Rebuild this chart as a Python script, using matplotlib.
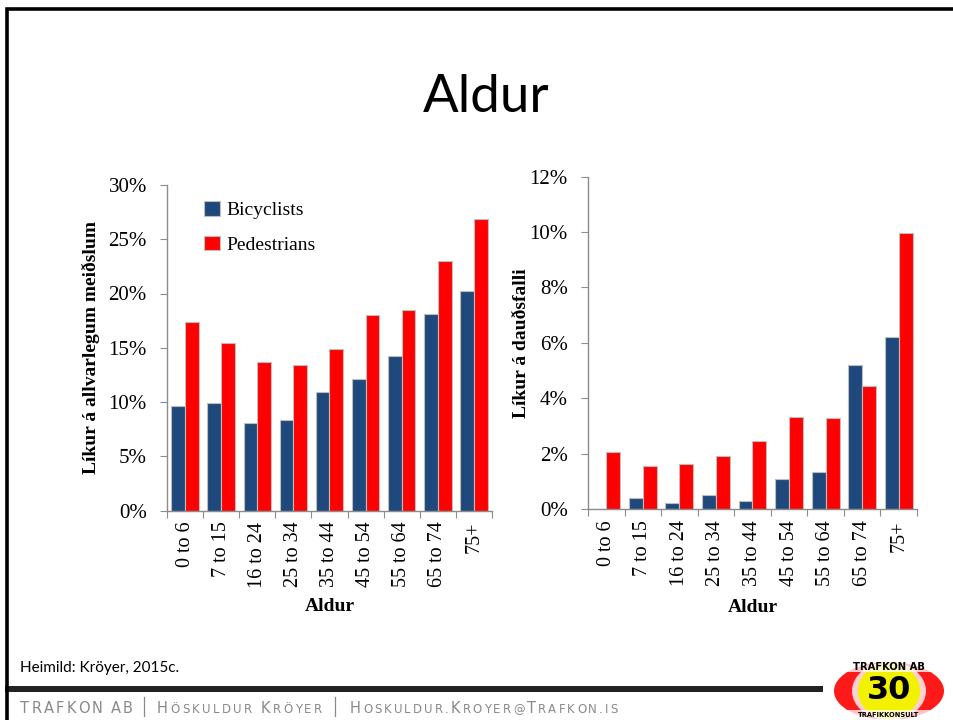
import matplotlib
matplotlib.use("Agg")
import matplotlib.pyplot as plt
import matplotlib.patches as mpatches
import numpy as np

categories = ["0 to 6", "7 to 15", "16 to 24", "25 to 34", "35 to 44",
              "45 to 54", "55 to 64", "65 to 74", "75+"]
serious_bicyclists = [9.6, 9.9, 8.1, 8.3, 10.9, 12.1, 14.2, 18.1, 20.2]
serious_pedestrians = [17.4, 15.4, 13.7, 13.4, 14.9, 18.0, 18.5, 23.0, 26.9]
fatal_bicyclists = [0.0, 0.4, 0.2, 0.5, 0.3, 1.1, 1.35, 5.2, 6.2]
fatal_pedestrians = [2.07, 1.55, 1.63, 1.92, 2.45, 3.32, 3.27, 4.44, 9.96]
left_yticks = [0, 5, 10, 15, 20, 25, 30]
right_yticks = [0, 2, 4, 6, 8, 10, 12]
series_names = ["Bicyclists", "Pedestrians"]
title_text = "Aldur"
xlabel_text = "Aldur"
left_ylabel = "Líkur á allvarlegum meiðslum"
right_ylabel = "Líkur á dauðsfalli"
source_text = "Heimild: Kröyer, 2015c."
footer_texts = ["TRAFKON AB", "Höskuldur Kröyer", "Hoskuldur.Kroyer@Trafkon.is"]

BLUE = "#1F497D"
RED = "#FF0000"
EDGE = "#BDBDBD"
SPINE = "#8C8C8C"
SERIF = ["Liberation Serif", "DejaVu Serif"]
SANS = ["Lato", "DejaVu Sans"]

W, H = 954, 720
fig = plt.figure(figsize=(W / 100, H / 100), dpi=100)
fig.patch.set_facecolor("white")


def px_axes(x0, y0, x1, y1, z=0):
    return fig.add_axes([x0 / W, 1 - y1 / H, (x1 - x0) / W, (y1 - y0) / H],
                        zorder=z)


def style_axes(ax, yticks, ymax, ylabel):
    x = np.arange(len(categories))
    ax.set_xlim(-0.5, len(categories) - 0.5)
    ax.set_ylim(0, ymax)
    for s in ["top", "right"]:
        ax.spines[s].set_visible(False)
    for s in ["left", "bottom"]:
        ax.spines[s].set_color(SPINE)
        ax.spines[s].set_linewidth(1.0)
    ax.set_yticks(yticks)
    ax.set_yticklabels([f"{v}%" for v in yticks], fontfamily=SERIF, fontsize=15)
    ax.tick_params(axis="y", direction="out", length=5, color=SPINE, pad=9.5)
    ax.set_xticks(np.arange(-0.5, len(categories), 1.0))
    ax.set_xticklabels([])
    ax.tick_params(axis="x", which="major", direction="out", length=5, color=SPINE)
    ax.set_xticks(x, minor=True)
    ax.set_xticklabels(categories, minor=True, rotation=90, fontfamily=SERIF,
                       fontsize=14.5, va="top", ha="center")
    ax.tick_params(axis="x", which="minor", length=0, pad=8)
    ax.set_xlabel(xlabel_text, fontfamily=SERIF, fontsize=14, fontweight="bold",
                  labelpad=0)
    ax.set_ylabel(ylabel, fontfamily=SERIF, fontsize=14, fontweight="bold",
                  labelpad=6)


def draw_bars(ax, b, p):
    x = np.arange(len(categories))
    w = 0.38
    ax.bar(x - w / 2, b, w, color=BLUE, edgecolor=EDGE, linewidth=0.8,
           label=series_names[0])
    ax.bar(x + w / 2, p, w, color=RED, edgecolor=EDGE, linewidth=0.8,
           label=series_names[1])


ax1 = px_axes(167, 185, 492, 510.5, z=2)
draw_bars(ax1, serious_bicyclists, serious_pedestrians)
style_axes(ax1, left_yticks, 30, left_ylabel)
ax1.xaxis.set_label_coords(0.5, -0.27)
ax1.yaxis.set_label_coords(-0.205, 0.5)
leg = ax1.legend(loc="upper left", bbox_to_anchor=(0.06, 1.005), frameon=False,
                 prop={"family": SERIF, "size": 14}, handlelength=0.8,
                 handleheight=0.8, handletextpad=0.35, labelspacing=0.85)

ax2 = px_axes(588, 176.7, 917, 509, z=2)
draw_bars(ax2, fatal_bicyclists, fatal_pedestrians)
style_axes(ax2, right_yticks, 12, right_ylabel)
ax2.xaxis.set_label_coords(0.5, -0.27)
ax2.yaxis.set_label_coords(-0.175, 0.5)

# overlay for slide decorations
ov = fig.add_axes([0, 0, 1, 1], zorder=-1)
ov.set_xlim(0, W)
ov.set_ylim(H, 0)
ov.axis("off")

ov.plot([7.5, 7.5, W], [H, 9, 9], color="black", lw=2.6, solid_capstyle="butt",
        solid_joinstyle="miter")
ov.text(486, 98, title_text, fontsize=38, fontfamily=SANS, ha="center",
        va="center", color="black")
ov.text(20, 668, source_text, fontsize=11, fontfamily=SANS, ha="left",
        va="center", color="black")
ov.add_patch(mpatches.Rectangle((5, 686), 818, 6, color="#222222", lw=0))

# footer small caps text, laid out character by character with tracking
ov2 = fig.add_axes([0, 0, 1, 1], zorder=5)
ov2.set_xlim(0, W)
ov2.set_ylim(H, 0)
ov2.axis("off")
fig.canvas.draw()
renderer = fig.canvas.get_renderer()
GREY = "#8A8A8A"
CAP, SMALL = 10.5, 8.5
spans = [(20, 133), (157, 322), (350, 618)]
separators = [144, 335]
ybase = 713
scale = W / fig.bbox.width
for text, (x0, x1) in zip(footer_texts, spans):
    sizes = [CAP if ch.isupper() else SMALL for ch in text]
    chars = text.upper()
    widths = []
    for ch, sz in zip(chars, sizes):
        if ch == " ":
            widths.append(sz * 0.318 * 100 / 72)
            continue
        t = ov2.text(0, 0, ch, fontsize=sz, fontfamily=["DejaVu Sans"])
        widths.append(t.get_window_extent(renderer=renderer).width * scale)
        t.remove()
    track = (x1 - x0 - sum(widths)) / (len(chars) - 1)
    xcur = x0
    for ch, sz, w in zip(chars, sizes, widths):
        if ch != " ":
            ov2.text(xcur, ybase, ch, fontsize=sz, fontfamily=["DejaVu Sans"],
                     color=GREY, ha="left", va="baseline")
        xcur += w + track
for sx in separators:
    ov2.plot([sx, sx], [697, 716], color=GREY, lw=0.9)

# logo
lg = fig.add_axes([833 / W, 1 - 719 / H, 112 / W, 59 / H], zorder=6)
lg.set_xlim(0, 112)
lg.set_ylim(59, 0)
lg.axis("off")
lg.add_patch(mpatches.Ellipse((56, 31), 110, 58, color="#FF1A1A", lw=0))
lg.add_patch(mpatches.Ellipse((56, 31), 74, 58, color="#FFD0D0", lw=0))
lg.add_patch(mpatches.Ellipse((56, 31), 62, 56, color="#F2F200", lw=0))
lg.add_patch(mpatches.Rectangle((0, 0), 112, 12, color="white", alpha=0.75, lw=0))
lg.add_patch(mpatches.Rectangle((0, 50), 112, 10, color="white", alpha=0.75, lw=0))
lg.text(56, 6.5, "TRAFKON AB", fontsize=7.2, fontweight="bold", ha="center",
        va="center", fontfamily=["DejaVu Sans"], color="black")
lg.text(56, 30.5, "30", fontsize=23, fontweight="bold", ha="center",
        va="center", fontfamily=["DejaVu Sans"], color="black")
lg.text(56, 55, "TRAFIKKONSULT", fontsize=4.8, fontweight="bold", ha="center",
        va="center", fontfamily=["DejaVu Sans"], color="black")

fig.savefig("out.png", dpi=100, facecolor="white")
